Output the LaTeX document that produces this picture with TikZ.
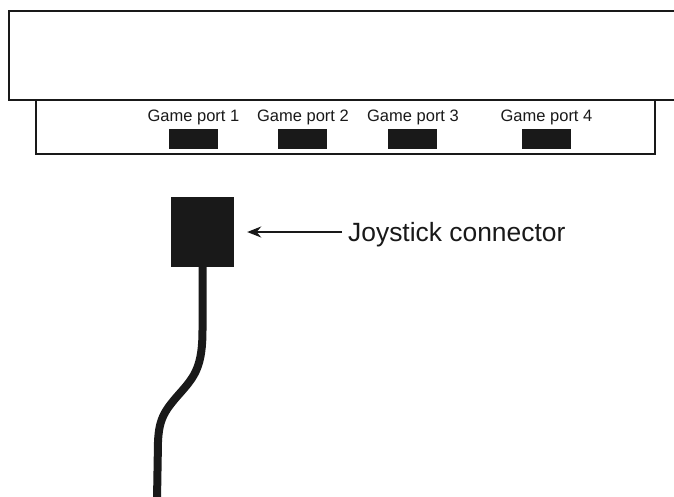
\documentclass[tikz,border=0pt]{standalone}
\usepackage{fontspec}
\setmainfont{Liberation Sans}
\usetikzlibrary{arrows.meta}
\tikzset{
  frame/.style={line width=2pt, draw=black!90},
  port/.style={fill=black!90, draw=none, minimum width=49pt, minimum height=20pt, inner sep=0pt},
  portlabel/.style={font=\fontsize{16.5pt}{18pt}\selectfont, text=black!90, inner sep=0pt, anchor=base},
  conn/.style={fill=black!90, draw=none, minimum width=63pt, minimum height=70pt, inner sep=0pt},
  cable/.style={line width=8pt, draw=black!90},
  pointer/.style={line width=2pt, draw=black!90, -{Stealth[length=14pt, width=11pt]}}
}
\begin{document}
\begin{tikzpicture}[x=1pt, y=-1pt]
\useasboundingbox (0,0) rectangle (674,496);
% top box (continues beyond the right edge)
\draw[frame] (680,10.5) -- (9,10.5) -- (9,99.5) -- (680,99.5);
% lower panel
\draw[frame] (36,99.5) -- (36,154) -- (655,154) -- (655,99.5);
% ports
\node[port] (p1) at (193.5,139) {};
\node[port] (p2) at (302.5,139) {};
\node[port] (p3) at (412,139) {};
\node[port] (p4) at (546.5,139) {};
\node[portlabel] (l1) at (193.5,121.5) {Game port 1};
\node[portlabel] (l2) at (303,121.5) {Game port 2};
\node[portlabel] (l3) at (413,121.5) {Game port 3};
\node[portlabel] (l4) at (546.5,121.5) {Game port 4};
% joystick connector
\node[conn] (jc) at (202.5,232) {};
\node[font=\fontsize{26.4pt}{30pt}\selectfont, text=black!90, inner sep=0pt, anchor=base west] (jl) at (348,241.5) {Joystick connector};
\coordinate (tail) at (342,232);
\draw[pointer] (tail) -- ([xshift=13pt]jc.east);
% cable
\coordinate (cend) at (157,500);
\draw[cable] (jc.south) -- (202.5,330) .. controls (202.5,366) and (195,376) .. (181,392) .. controls (165,410) and (159,418) .. (158,442) -- (cend);
\end{tikzpicture}
\end{document}
